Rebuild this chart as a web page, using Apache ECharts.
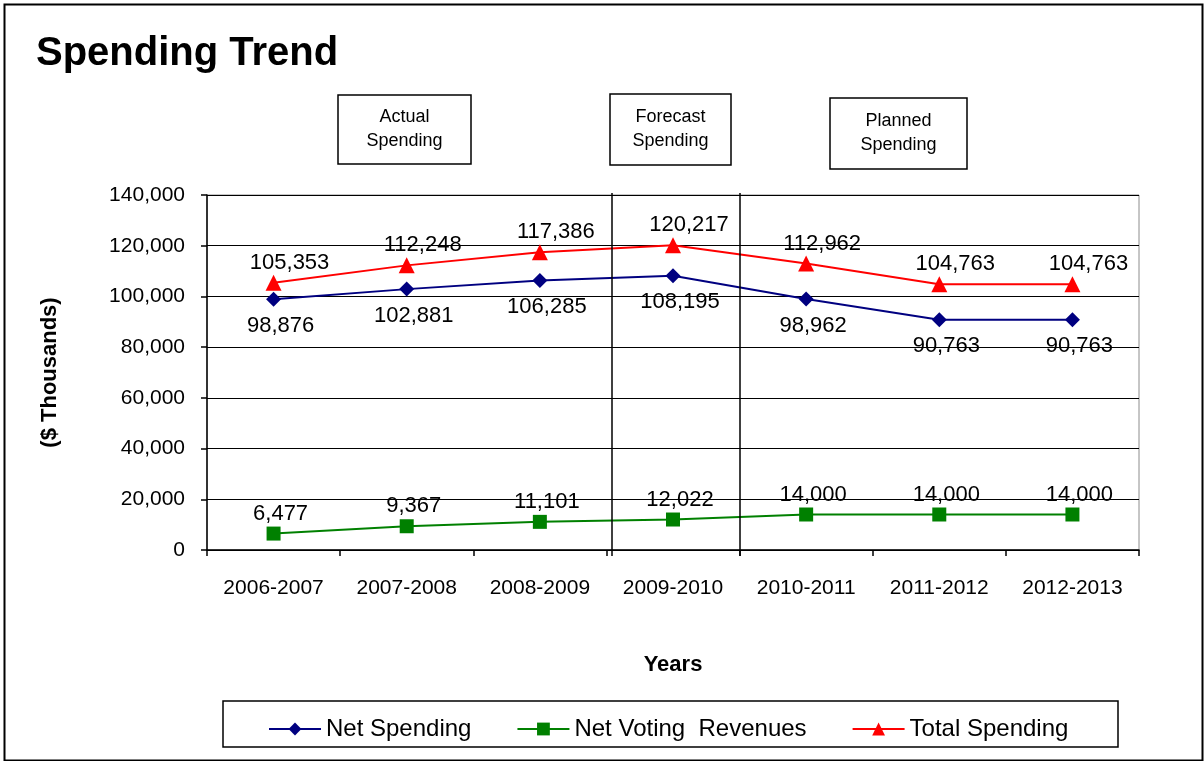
<!DOCTYPE html>
<html>
<head>
<meta charset="utf-8">
<script src="https://cdn.jsdelivr.net/npm/echarts@6/dist/echarts.min.js"></script>
<style>html,body{margin:0;padding:0;background:#fff}#c{width:1204px;height:761px}</style>
</head>
<body>
<div id="c"></div>
<script>
const categories = ['2006-2007','2007-2008','2008-2009','2009-2010','2010-2011','2011-2012','2012-2013'];
const netSpending = [98876, 102881, 106285, 108195, 98962, 90763, 90763];
const netVotingRevenues = [6477, 9367, 11101, 12022, 14000, 14000, 14000];
const totalSpending = [105353, 112248, 117386, 120217, 112962, 104763, 104763];
const yTicks = [0, 20000, 40000, 60000, 80000, 100000, 120000, 140000];

const FONT = 'Liberation Sans, Arial, sans-serif';
const fmt = v => v.toLocaleString('en-US');

const chart = echarts.init(document.getElementById('c'));
chart.setOption({
  animation: false,
  backgroundColor: '#fff',
  textStyle: { fontFamily: FONT, color: '#000' },
  title: {
    text: 'Spending Trend', left: 31, top: 29,
    textStyle: { fontFamily: FONT, fontSize: 40, fontWeight: 'bold', color: '#000' }
  },
  grid: { left: 207, right: 65, top: 195, bottom: 211, show: true, borderColor: '#8c8c8c', borderWidth: 1 },
  legend: {
    left: 263, top: 712,
    itemWidth: 52, itemHeight: 16, itemGap: 45,
    textStyle: { fontFamily: FONT, fontSize: 24, color: '#000' },
    data: ['Net Spending', 'Net Voting  Revenues', 'Total Spending']
  },
  xAxis: {
    type: 'category', data: categories, boundaryGap: true,
    name: 'Years', nameLocation: 'middle', nameGap: 104,
    nameTextStyle: { fontFamily: FONT, fontSize: 22, fontWeight: 'bold', color: '#000' },
    axisLine: { lineStyle: { color: '#000', width: 1.5 } },
    axisTick: { show: true, interval: 0, length: 6, lineStyle: { color: '#000', width: 1.5 } },
    axisLabel: { interval: 0, fontFamily: FONT, fontSize: 21, color: '#000', margin: 28 },
    splitLine: { show: false }
  },
  yAxis: {
    type: 'value', min: yTicks[0], max: yTicks[yTicks.length - 1], interval: yTicks[1] - yTicks[0],
    name: '($ Thousands)', nameLocation: 'middle', nameGap: 146,
    nameTextStyle: { fontFamily: FONT, fontSize: 22, fontWeight: 'bold', color: '#000' },
    axisLine: { show: true, lineStyle: { color: '#000', width: 1.5 } },
    axisTick: { show: true, inside: false, length: 6, lineStyle: { color: '#000', width: 1.5 } },
    axisLabel: { fontFamily: FONT, fontSize: 21, color: '#000', margin: 22, formatter: v => fmt(v) },
    splitLine: { show: true, lineStyle: { color: '#000', width: 1.2 } }
  },
  series: [
    {
      name: 'Net Spending', type: 'line', data: netSpending,
      symbol: 'diamond', symbolSize: 15,
      itemStyle: { color: '#000080' }, lineStyle: { color: '#000080', width: 2 },
      label: { show: true, position: 'bottom', offset: [7, 3], fontFamily: FONT, fontSize: 22, color: '#000', formatter: p => fmt(p.value) },
      z: 3
    },
    {
      name: 'Net Voting  Revenues', type: 'line', data: netVotingRevenues,
      symbol: 'rect', symbolSize: 14,
      itemStyle: { color: '#008000' }, lineStyle: { color: '#008000', width: 2 },
      label: { show: true, position: 'top', offset: [7, 3], fontFamily: FONT, fontSize: 22, color: '#000', formatter: p => fmt(p.value) },
      z: 3
    },
    {
      name: 'Total Spending', type: 'line', data: totalSpending,
      symbol: 'triangle', symbolSize: 16,
      itemStyle: { color: '#ff0000' }, lineStyle: { color: '#ff0000', width: 2 },
      label: { show: true, position: 'top', offset: [16, 4], fontFamily: FONT, fontSize: 22, color: '#000', formatter: p => fmt(p.value) },
      z: 3
    }
  ],
  graphic: [
    { type: 'rect', left: 2, top: 2, shape: { width: 1198, height: 756 }, style: { fill: 'none', stroke: '#000', lineWidth: 2 }, silent: true, z: -10 },
    { type: 'line', shape: { x1: 612, y1: 193, x2: 612, y2: 556 }, style: { stroke: '#000', lineWidth: 1.5 }, z: 10 },
    { type: 'line', shape: { x1: 740, y1: 193, x2: 740, y2: 556 }, style: { stroke: '#000', lineWidth: 1.5 }, z: 10 },
    { type: 'rect', shape: { x: 338, y: 95, width: 133, height: 69 }, style: { fill: '#fff', stroke: '#000', lineWidth: 1.5 } },
    { type: 'text', x: 404.5, y: 129.5, style: { text: 'Actual\nSpending', fontFamily: FONT, fontSize: 18, lineHeight: 24, fill: '#000', align: 'center', verticalAlign: 'middle' } },
    { type: 'rect', shape: { x: 610, y: 94, width: 121, height: 71 }, style: { fill: '#fff', stroke: '#000', lineWidth: 1.5 } },
    { type: 'text', x: 670.5, y: 129.5, style: { text: 'Forecast\nSpending', fontFamily: FONT, fontSize: 18, lineHeight: 24, fill: '#000', align: 'center', verticalAlign: 'middle' } },
    { type: 'rect', shape: { x: 830, y: 98, width: 137, height: 71 }, style: { fill: '#fff', stroke: '#000', lineWidth: 1.5 } },
    { type: 'text', x: 898.5, y: 133.5, style: { text: 'Planned\nSpending', fontFamily: FONT, fontSize: 18, lineHeight: 24, fill: '#000', align: 'center', verticalAlign: 'middle' } },
    { type: 'rect', shape: { x: 223, y: 701, width: 895, height: 46 }, style: { fill: 'none', stroke: '#000', lineWidth: 1.5 } }
  ]
});
</script>
</body>
</html>
